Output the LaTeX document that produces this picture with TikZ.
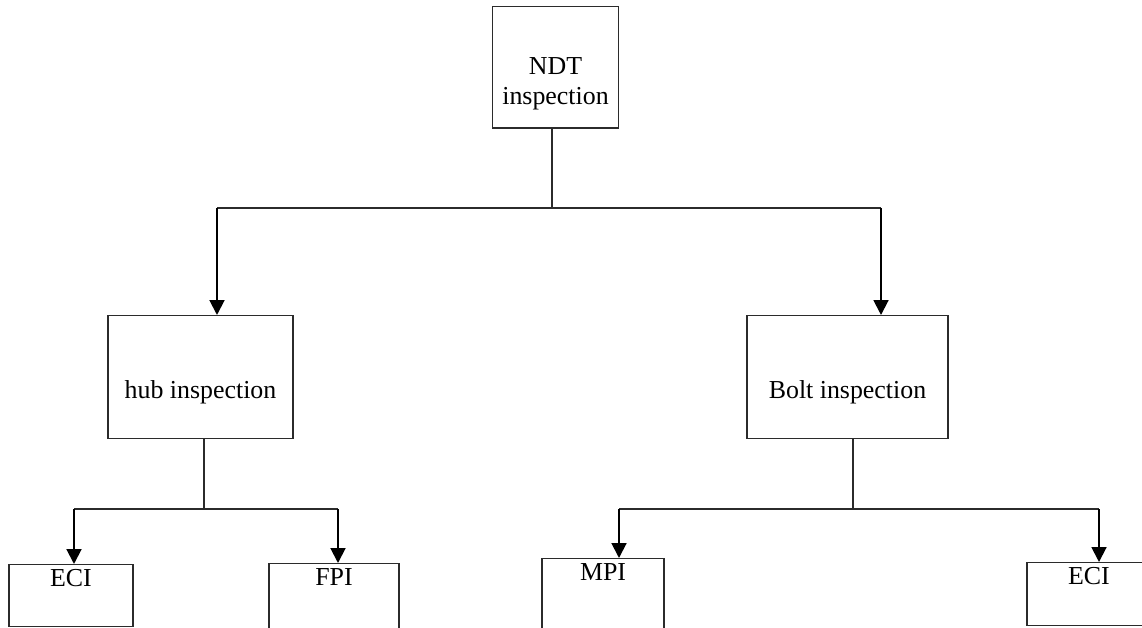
\documentclass[tikz,border=0pt]{standalone}
\usepackage{fontspec}
\setmainfont{Liberation Serif}
\usepackage{tikz}
\usetikzlibrary{arrows.meta, positioning, calc}
\usepackage{xcolor}
\definecolor{LineGrey}{HTML}{2B2B2B}
\tikzset{
    % Node styles
    topbox/.style={
        rectangle,
        draw=LineGrey,
        line width=1pt,
        fill=white,
        minimum width=3.14cm,
        inner ysep=0pt,
        align=center,
        font=\fontsize{18.4}{21.3}\selectfont
    },
    midbox/.style={
        rectangle,
        draw=LineGrey,
        line width=1pt,
        fill=white,
        anchor=north,
        inner ysep=0pt,
        text height=2.075cm,
        text depth=1.0cm,
        font=\fontsize{18.4}{21.3}\selectfont
    },
    leafbox/.style={
        rectangle,
        draw=LineGrey,
        line width=1pt,
        fill=white,
        anchor=north,
        inner ysep=0pt,
        text height=0.54cm,
        font=\fontsize{18.4}{21.3}\selectfont
    },
    % Connector styles
    plainline/.style={
        draw=LineGrey,
        line width=1.1pt
    },
    myarrow/.style={
        -{Triangle[width=0.37cm,length=0.37cm]},
        line width=1.4pt,
        black
    }
}

\begin{document}
\begin{tikzpicture}[x=0.025cm, y=-0.025cm]
    \useasboundingbox (0,0) rectangle (1142,628);
    \clip (0,0) rectangle (1142,628);

    % Root
    \node[topbox, anchor=north, text height=2.45cm, text depth=0.59cm] (ndt) at (555.5,5.7) {NDT\\inspection};

    % Second level
    \node[midbox, minimum width=4.625cm] (hub) at (200.5,315) {hub inspection};
    \node[midbox, minimum width=5.025cm] (bolt) at (847.5,315) {Bolt inspection};

    % Leaves
    \node[leafbox, minimum width=3.1cm, text depth=1.01cm] (eciA) at (71,564) {ECI};
    \node[leafbox, minimum width=3.25cm, text depth=1.93cm] (fpi) at (334,563) {FPI};
    \node[leafbox, minimum width=3.05cm, text depth=1.93cm] (mpi) at (603,558) {MPI};
    \node[leafbox, minimum width=3.1cm, text depth=1.03cm] (eciB) at (1089,562) {ECI};

    % Junctions
    \coordinate (rootJ) at (552,208);
    \coordinate (rootL) at (217,208);
    \coordinate (rootR) at (881,208);
    \coordinate (hubJ) at (204,509);
    \coordinate (hubL) at (74,509);
    \coordinate (hubR) at (338,509);
    \coordinate (boltJ) at (853,509);
    \coordinate (boltL) at (619,509);
    \coordinate (boltR) at (1099,509);

    % Root to second level
    \draw[plainline] (ndt.south -| rootJ) -- (rootJ);
    \draw[plainline] (rootL) -- (rootR);
    \draw[myarrow] (rootL) -- (rootL |- hub.north);
    \draw[myarrow] (rootR) -- (rootR |- bolt.north);

    % hub to leaves
    \draw[plainline] (hub.south -| hubJ) -- (hubJ);
    \draw[plainline] (hubL) -- (hubR);
    \draw[myarrow] (hubL) -- (hubL |- eciA.north);
    \draw[myarrow] (hubR) -- (hubR |- fpi.north);

    % Bolt to leaves
    \draw[plainline] (bolt.south -| boltJ) -- (boltJ);
    \draw[plainline] (boltL) -- (boltR);
    \draw[myarrow] (boltL) -- (boltL |- mpi.north);
    \draw[myarrow] (boltR) -- (boltR |- eciB.north);
\end{tikzpicture}
\end{document}
